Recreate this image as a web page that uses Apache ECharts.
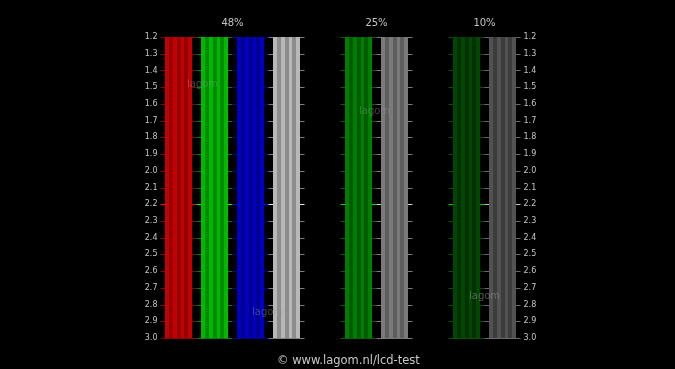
<!DOCTYPE html>
<html>
<head>
<meta charset="utf-8">
<script src="https://cdn.jsdelivr.net/npm/echarts@6/dist/echarts.min.js"></script>
<style>
  html, body { margin: 0; padding: 0; background: #000; }
  #chart { width: 675px; height: 369px; }
</style>
</head>
<body>
<div id="chart"></div>
<script>
// slots along the x axis, '' = gap between groups
const slots = ['R48', 'G48', 'B48', 'K48', '', 'G25', 'K25', '', 'G10', 'K10']
// every bar runs from 1.2 down to 3.0 (values x10)
const barEnd = [30, 30, 30, 30, '-', 30, 30, '-', 30, 30]
// gamma levels x10
const levels = [12, 13, 14, 15, 16, 17, 18, 19, 20, 21, 22, 23, 24, 25, 26, 27, 28, 29, 30]
const highlightLevel = 22
// group titles on the slot boundaries (11 boundaries for 10 slots)
const groupTitles = ['', '', '48%', '', '', '', '25%', '', '', '10%', '']

// bar looks: bright / dark stripe colour, tick colour, highlighted tick colour
const looks = {
  R48: ['#c40000', '#940000', '#8a0000', '#ff0000'],
  G48: ['#00b800', '#008a00', '#008000', '#00ff00'],
  B48: ['#0000c4', '#00008e', '#000088', '#0000ff'],
  K48: ['#b8b8b8', '#8c8c8c', '#808080', '#e8e8e8'],
  G25: ['#007e00', '#005a00', '#006400', '#00e000'],
  K25: ['#7a7a7a', '#5e5e5e', '#7a7a7a', '#d0d0d0'],
  G10: ['#004800', '#003000', '#005400', '#00c800'],
  K10: ['#525252', '#3c3c3c', '#6a6a6a', '#c0c0c0']
}
// stripe layout inside a bar: [start, end, 0 = bright / 1 = dark]
const stripes = [[0, 0.15, 0], [0.15, 0.3, 1], [0.3, 0.44, 0], [0.44, 0.6, 1], [0.6, 0.72, 0], [0.72, 0.86, 1], [0.86, 1, 0]]

function stripeFill (key) {
  const stops = []
  stripes.forEach(s => {
    const c = looks[key][s[2]]
    stops.push({ offset: s[0], color: c }, { offset: s[1], color: c })
  })
  return new echarts.graphic.LinearGradient(0, 0, 1, 0, stops)
}

const barData = barEnd.map((v, i) => {
  if (v === '-') return '-'
  return { value: v, itemStyle: { color: stripeFill(slots[i]) } }
})

const tickData = []
slots.forEach((s, i) => {
  if (!s) return
  levels.forEach(l => tickData.push([i, l, l === highlightLevel ? 1 : 0]))
})

const labelColor = '#c4c4c4'
const yAxisBase = {
  type: 'value',
  min: 12,
  max: 30,
  interval: 1,
  inverse: true,
  axisLine: { show: false },
  axisTick: { show: false },
  splitLine: { show: false },
  axisLabel: {
    color: labelColor,
    fontFamily: 'DejaVu Sans',
    fontSize: 8,
    margin: 3,
    formatter: v => (v / 10).toFixed(1)
  }
}

const chart = echarts.init(document.getElementById('chart'))
chart.setOption({
  backgroundColor: '#000',
  animation: false,
  grid: { left: 160.5, right: 154.5, top: 37, bottom: 31 },
  xAxis: [{
    type: 'category',
    data: slots,
    show: false
  }, {
    type: 'category',
    data: groupTitles,
    position: 'top',
    boundaryGap: false,
    axisLine: { show: false },
    axisTick: { show: false },
    axisLabel: { interval: 0, color: labelColor, fontFamily: 'DejaVu Sans', fontSize: 10, margin: 9 }
  }],
  yAxis: [
    Object.assign({}, yAxisBase, { position: 'left' }),
    Object.assign({}, yAxisBase, { position: 'right' })
  ],
  series: [{
    type: 'custom',
    z: 1,
    data: tickData,
    renderItem: function (params, api) {
      const c = api.coord([api.value(0), api.value(1)])
      const w = api.size([1, 0])[0]
      const look = looks[slots[api.value(0)]]
      const y = Math.round(c[1]) + 0.5
      return {
        type: 'line',
        shape: { x1: c[0] - w / 2, y1: y, x2: c[0] + w / 2, y2: y },
        style: { stroke: api.value(2) ? look[3] : look[2], lineWidth: 1 }
      }
    }
  }, {
    type: 'bar',
    z: 2,
    barWidth: 27,
    clip: true,
    data: barData
  }],
  graphic: [
    { type: 'text', left: 187, top: 79, z: 10, style: { text: 'lagom', fill: 'rgba(150,150,150,0.45)', font: '10px DejaVu Sans' } },
    { type: 'text', left: 359, top: 106, z: 10, style: { text: 'lagom', fill: 'rgba(150,150,150,0.45)', font: '10px DejaVu Sans' } },
    { type: 'text', left: 252, top: 307, z: 10, style: { text: 'lagom', fill: 'rgba(150,150,150,0.45)', font: '10px DejaVu Sans' } },
    { type: 'text', left: 469, top: 291, z: 10, style: { text: 'lagom', fill: 'rgba(150,150,150,0.55)', font: '10px DejaVu Sans' } },
    { type: 'text', left: 277, top: 355, style: { text: '© www.lagom.nl/lcd-test', fill: '#c8c8c8', font: '11.5px DejaVu Sans' } }
  ]
})
</script>
</body>
</html>
